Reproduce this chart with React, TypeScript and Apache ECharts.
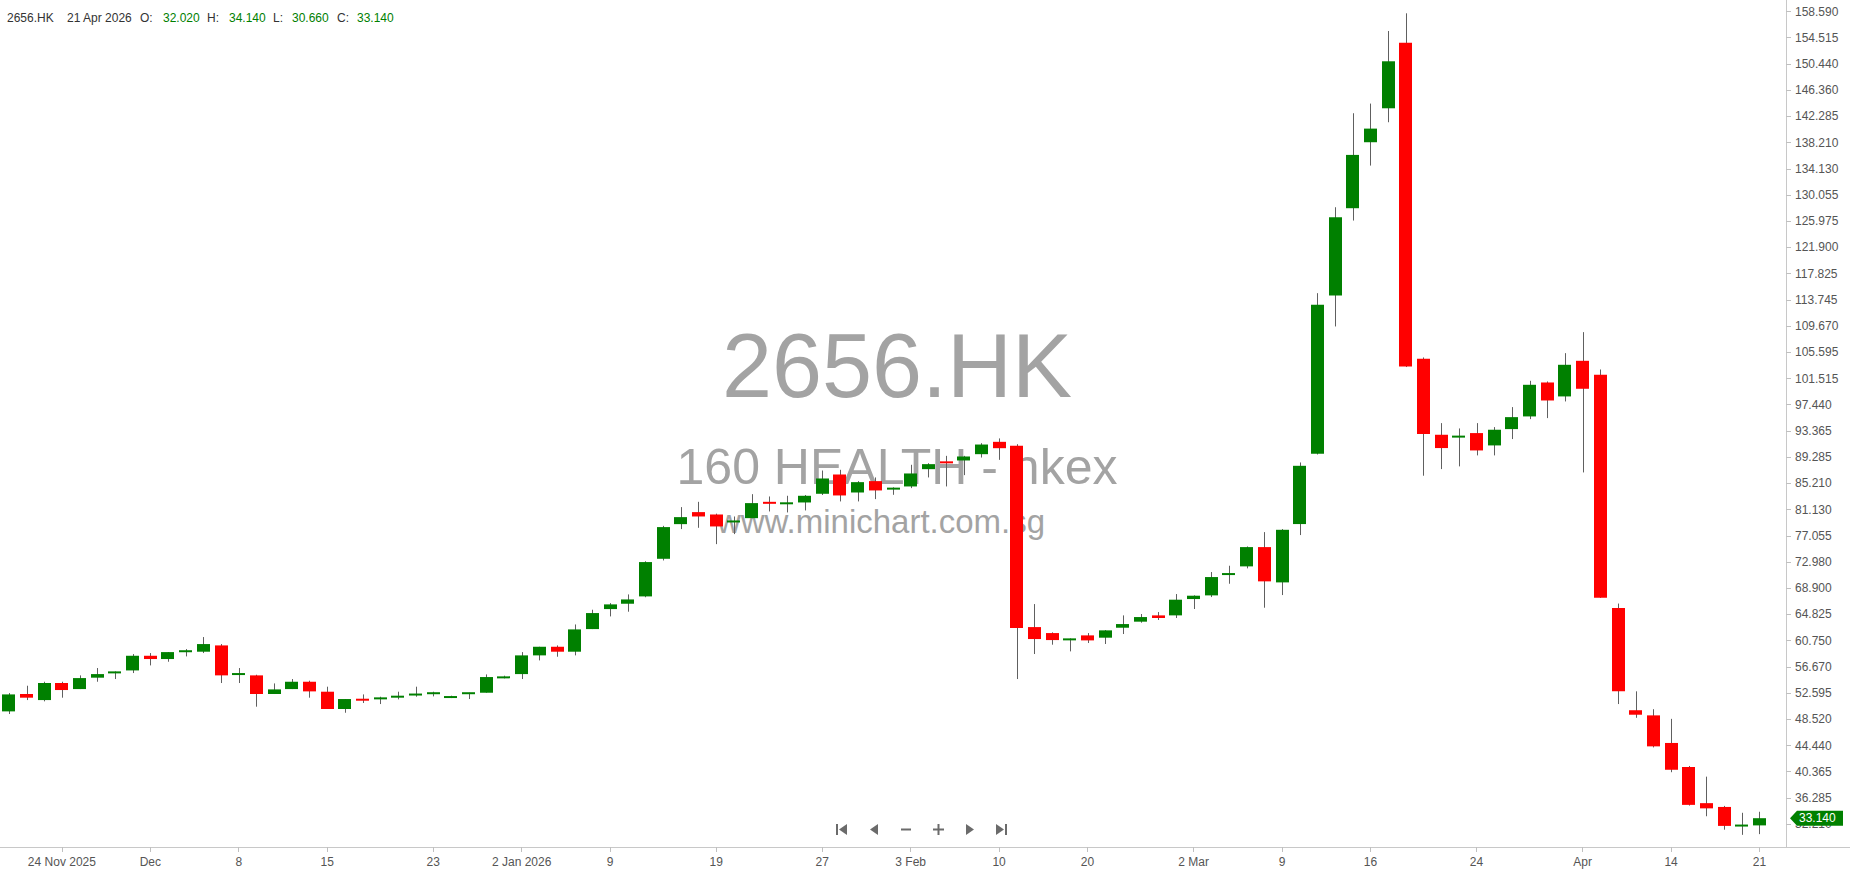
import { useEffect, useRef } from 'react';
import * as echarts from 'echarts';

// ---- data ----
const dates: string[] = [
  '2025-11-19', '2025-11-20', '2025-11-21', '2025-11-24', '2025-11-25', '2025-11-26', '2025-11-27', '2025-11-28',
  '2025-12-01', '2025-12-02', '2025-12-03', '2025-12-04', '2025-12-05',
  '2025-12-08', '2025-12-09', '2025-12-10', '2025-12-11', '2025-12-12',
  '2025-12-15', '2025-12-16', '2025-12-17', '2025-12-18', '2025-12-19',
  '2025-12-22', '2025-12-23', '2025-12-24', '2025-12-29', '2025-12-30', '2025-12-31',
  '2026-01-02', '2026-01-05', '2026-01-06', '2026-01-07', '2026-01-08', '2026-01-09',
  '2026-01-12', '2026-01-13', '2026-01-14', '2026-01-15', '2026-01-16',
  '2026-01-19', '2026-01-20', '2026-01-21', '2026-01-22', '2026-01-23',
  '2026-01-26', '2026-01-27', '2026-01-28', '2026-01-29', '2026-01-30',
  '2026-02-02', '2026-02-03', '2026-02-04', '2026-02-05', '2026-02-06',
  '2026-02-09', '2026-02-10', '2026-02-11', '2026-02-12', '2026-02-13',
  '2026-02-16', '2026-02-20',
  '2026-02-23', '2026-02-24', '2026-02-25', '2026-02-26', '2026-02-27',
  '2026-03-02', '2026-03-03', '2026-03-04', '2026-03-05', '2026-03-06',
  '2026-03-09', '2026-03-10', '2026-03-11', '2026-03-12', '2026-03-13',
  '2026-03-16', '2026-03-17', '2026-03-18', '2026-03-19', '2026-03-20',
  '2026-03-23', '2026-03-24', '2026-03-25', '2026-03-26', '2026-03-27',
  '2026-03-30', '2026-03-31',
  '2026-04-01', '2026-04-02', '2026-04-08', '2026-04-09', '2026-04-10',
  '2026-04-14', '2026-04-15', '2026-04-16', '2026-04-17', '2026-04-20', '2026-04-21',
];

const opens: number[] = [
  49.75, 52.45, 51.51, 54.16, 53.22, 54.99, 55.76, 56.12, 58.40, 57.89,
  59.03, 59.03, 60.01, 55.40, 55.35, 52.45, 53.22, 54.36, 52.81, 50.12,
  51.67, 51.67, 51.88, 52.29, 52.50, 51.93, 52.50, 52.65, 54.99, 55.55,
  58.46, 59.80, 59.03, 62.55, 65.66, 66.49, 67.63, 73.48, 78.87, 80.74,
  80.37, 79.13, 79.80, 82.34, 82.03, 82.24, 83.59, 86.59, 83.79, 85.56,
  84.31, 84.73, 87.42, 88.61, 88.77, 89.75, 91.67, 91.05, 62.86, 61.93,
  60.85, 61.57, 61.21, 62.76, 63.70, 64.68, 64.68, 67.22, 67.79, 70.95,
  72.30, 75.30, 69.81, 78.88, 89.81, 114.42, 128.00, 138.26, 143.54, 153.75,
  104.58, 92.77, 92.35, 93.03, 91.11, 93.65, 95.62, 100.90, 98.73, 104.27,
  102.12, 65.83, 49.93, 49.13, 44.84, 41.10, 35.48, 34.89, 31.89, 32.02,
];
const highs: number[] = [
  52.60, 53.74, 54.36, 54.36, 55.35, 56.49, 55.97, 58.66, 58.82, 58.97,
  59.44, 61.31, 60.22, 56.49, 55.45, 54.10, 54.78, 54.52, 53.59, 51.67,
  52.39, 52.03, 52.81, 53.59, 52.81, 52.19, 52.65, 55.50, 55.30, 58.97,
  59.80, 60.01, 63.27, 65.56, 66.59, 67.94, 73.10, 78.60, 81.52, 82.34,
  80.50, 80.06, 83.53, 83.17, 83.28, 83.40, 87.21, 87.32, 85.56, 86.13,
  84.60, 88.10, 88.35, 89.49, 89.49, 91.46, 92.20, 91.30, 66.44, 62.04,
  61.10, 61.93, 62.40, 64.68, 64.89, 65.20, 68.00, 67.80, 71.42, 72.40,
  75.40, 77.63, 78.10, 88.46, 114.79, 128.15, 142.77, 144.27, 155.56, 158.31,
  104.79, 94.58, 93.75, 94.58, 93.96, 97.07, 101.16, 101.06, 105.46, 108.73,
  102.92, 66.52, 52.87, 50.09, 48.59, 41.26, 39.60, 35.05, 33.98, 34.14,
];
const lows: number[] = [
  49.34, 51.51, 51.31, 51.88, 53.22, 54.36, 54.78, 55.71, 56.90, 57.47,
  58.30, 58.82, 54.16, 54.16, 50.48, 52.45, 53.22, 51.88, 50.12, 49.54,
  51.05, 50.89, 51.62, 52.03, 52.08, 51.82, 51.67, 52.65, 54.88, 54.78,
  57.68, 58.25, 58.46, 62.55, 64.52, 65.25, 67.50, 73.22, 78.10, 78.30,
  75.76, 77.32, 79.80, 80.84, 80.69, 81.00, 83.40, 82.40, 82.40, 82.76,
  83.43, 84.47, 86.13, 84.73, 86.49, 89.23, 88.87, 54.78, 58.67, 60.12,
  59.08, 60.38, 60.23, 61.78, 63.54, 63.96, 64.27, 65.67, 67.53, 69.60,
  71.99, 65.87, 67.84, 77.17, 89.70, 109.61, 126.08, 134.63, 141.37, 103.30,
  86.40, 87.43, 87.85, 89.56, 89.56, 92.10, 95.20, 95.36, 97.95, 86.91,
  67.40, 50.89, 48.75, 44.15, 40.29, 35.10, 33.44, 31.35, 30.55, 30.66,
];
const closes: number[] = [
  52.39, 51.88, 54.16, 53.07, 54.93, 55.55, 55.87, 58.40, 57.89, 58.97,
  59.18, 60.22, 55.35, 55.71, 52.45, 53.17, 54.36, 52.86, 50.12, 51.67,
  51.46, 51.88, 52.19, 52.45, 52.65, 52.03, 52.65, 55.09, 55.09, 58.46,
  59.80, 59.03, 62.50, 65.04, 66.39, 67.16, 72.97, 78.41, 79.96, 80.06,
  78.51, 79.44, 82.14, 82.03, 82.19, 83.28, 85.97, 83.33, 85.40, 84.11,
  84.47, 86.75, 88.20, 88.35, 89.39, 91.25, 90.68, 62.71, 61.00, 60.84,
  61.05, 60.79, 62.35, 63.33, 64.42, 64.27, 67.12, 67.74, 70.64, 71.26,
  75.30, 69.97, 77.99, 87.94, 112.97, 126.60, 136.29, 140.38, 150.85, 103.39,
  92.87, 90.70, 92.61, 90.33, 93.55, 95.51, 100.54, 98.10, 103.65, 99.92,
  67.43, 52.87, 49.23, 44.31, 40.67, 35.21, 34.67, 31.94, 32.10, 33.14,
];

const yTicks: number[] = [
  158.59, 154.515, 150.44, 146.36, 142.285, 138.21, 134.13, 130.055, 125.975, 121.9,
  117.825, 113.745, 109.67, 105.595, 101.515, 97.44, 93.365, 89.285, 85.21, 81.13,
  77.055, 72.98, 68.9, 64.825, 60.75, 56.67, 52.595, 48.52, 44.44, 40.365,
  36.285, 32.21,
];

const xTickLabels: [string, string][] = [
  ['2025-11-24', '24 Nov 2025'], ['2025-12-01', 'Dec'], ['2025-12-08', '8'], ['2025-12-15', '15'],
  ['2025-12-23', '23'], ['2026-01-02', '2 Jan 2026'], ['2026-01-09', '9'], ['2026-01-19', '19'],
  ['2026-01-27', '27'], ['2026-02-03', '3 Feb'], ['2026-02-10', '10'], ['2026-02-20', '20'],
  ['2026-03-02', '2 Mar'], ['2026-03-09', '9'], ['2026-03-16', '16'], ['2026-03-24', '24'],
  ['2026-04-01', 'Apr'], ['2026-04-14', '14'], ['2026-04-21', '21'],
];

const symbol = '2656.HK';
const company = '160 HEALTH - hkex';
const site = 'www.minichart.com.sg';
const lastDateLabel = '21 Apr 2026';

const Y_MIN = 28.66;
const Y_MAX = 160.38;

const UP = '#008000';
const DOWN = '#ff0000';
const WICK = '#606060';
const FONT = '"Liberation Sans", Arial, sans-serif';

export default function App() {
  const ref = useRef<HTMLDivElement>(null);

  useEffect(() => {
    if (!ref.current) return;
    const chart = echarts.init(ref.current, undefined, { renderer: 'svg' });
    const labelMap: Record<string, string> = {};
    xTickLabels.forEach(([d, l]) => { labelMap[d] = l; });
    const cats = [...dates, ''];
    const show = (_i: number, v: string) => labelMap[v] !== undefined;

    const last = dates.length - 1;
    const fmt = (v: number) => v.toFixed(3);

    const navColor = '#6b6b6b';
    const baseGraphic: any[] = [
      { id: 'wm1', type: 'text', z: 0, x: 897, y: 366, style: { text: symbol, font: `90px ${FONT}`, fill: '#a3a3a3', align: 'center', verticalAlign: 'middle' } },
      { id: 'wm2', type: 'text', z: 0, x: 897, y: 467, style: { text: company, font: `50px ${FONT}`, fill: '#a3a3a3', align: 'center', verticalAlign: 'middle' } },
      { id: 'wm3', type: 'text', z: 0, x: 881, y: 521, style: { text: site, font: `33px ${FONT}`, fill: '#a3a3a3', align: 'center', verticalAlign: 'middle' } },
      { id: 'xline', type: 'line', z: 50, shape: { x1: 1786, y1: 847.5, x2: 1850, y2: 847.5 }, style: { stroke: '#c8c8c8', lineWidth: 1 } },
      // header
      { id: 'h1', type: 'text', z: 100, x: 7, y: 18, style: { text: symbol, font: `12px ${FONT}`, fill: '#333', verticalAlign: 'middle' } },
      { id: 'h2', type: 'text', z: 100, x: 67, y: 18, style: { text: lastDateLabel, font: `12px ${FONT}`, fill: '#333', verticalAlign: 'middle' } },
      { id: 'h3', type: 'text', z: 100, x: 140, y: 18, style: { text: 'O:', font: `12px ${FONT}`, fill: '#333', verticalAlign: 'middle' } },
      { id: 'h4', type: 'text', z: 100, x: 163, y: 18, style: { text: fmt(opens[last]), font: `12px ${FONT}`, fill: UP, verticalAlign: 'middle' } },
      { id: 'h5', type: 'text', z: 100, x: 207, y: 18, style: { text: 'H:', font: `12px ${FONT}`, fill: '#333', verticalAlign: 'middle' } },
      { id: 'h6', type: 'text', z: 100, x: 229, y: 18, style: { text: fmt(highs[last]), font: `12px ${FONT}`, fill: UP, verticalAlign: 'middle' } },
      { id: 'h7', type: 'text', z: 100, x: 273, y: 18, style: { text: 'L:', font: `12px ${FONT}`, fill: '#333', verticalAlign: 'middle' } },
      { id: 'h8', type: 'text', z: 100, x: 292, y: 18, style: { text: fmt(lows[last]), font: `12px ${FONT}`, fill: UP, verticalAlign: 'middle' } },
      { id: 'h9', type: 'text', z: 100, x: 337, y: 18, style: { text: 'C:', font: `12px ${FONT}`, fill: '#333', verticalAlign: 'middle' } },
      { id: 'h10', type: 'text', z: 100, x: 357, y: 18, style: { text: fmt(closes[last]), font: `12px ${FONT}`, fill: UP, verticalAlign: 'middle' } },
      // navigation icons
      { id: 'n1a', type: 'rect', z: 100, shape: { x: 836, y: 824, width: 2, height: 11 }, style: { fill: navColor } },
      { id: 'n1b', type: 'polygon', z: 100, shape: { points: [[847, 824], [847, 835], [839, 829.5]] }, style: { fill: navColor } },
      { id: 'n2', type: 'polygon', z: 100, shape: { points: [[878, 824], [878, 835], [870, 829.5]] }, style: { fill: navColor } },
      { id: 'n3', type: 'rect', z: 100, shape: { x: 901, y: 828.5, width: 10, height: 2 }, style: { fill: navColor } },
      { id: 'n4a', type: 'rect', z: 100, shape: { x: 933, y: 828.5, width: 11, height: 2 }, style: { fill: navColor } },
      { id: 'n4b', type: 'rect', z: 100, shape: { x: 937.5, y: 824, width: 2, height: 11 }, style: { fill: navColor } },
      { id: 'n5', type: 'polygon', z: 100, shape: { points: [[966, 824], [966, 835], [974, 829.5]] }, style: { fill: navColor } },
      { id: 'n6a', type: 'polygon', z: 100, shape: { points: [[996, 824], [996, 835], [1004, 829.5]] }, style: { fill: navColor } },
      { id: 'n6b', type: 'rect', z: 100, shape: { x: 1005, y: 824, width: 2, height: 11 }, style: { fill: navColor } },
    ];

    chart.setOption({
      animation: false,
      backgroundColor: '#ffffff',
      textStyle: { fontFamily: FONT },
      grid: { left: 0, right: 64, top: 0, bottom: 27 },
      xAxis: {
        type: 'category',
        data: cats,
        boundaryGap: true,
        axisLine: { show: true, lineStyle: { color: '#c8c8c8', width: 1 } },
        axisTick: { show: true, alignWithLabel: true, interval: show, length: 5, lineStyle: { color: '#c0c0c0' } },
        axisLabel: { interval: show, formatter: (v: string) => labelMap[v] ?? '', color: '#555', fontSize: 12, margin: 9, fontFamily: FONT },
        splitLine: { show: false },
      },
      yAxis: {
        type: 'value',
        position: 'right',
        min: Y_MIN,
        max: Y_MAX,
        axisLine: { show: true, lineStyle: { color: '#c8c8c8', width: 1 } },
        axisTick: { show: true, length: 5, customValues: yTicks, lineStyle: { color: '#c0c0c0' } },
        axisLabel: { customValues: yTicks, formatter: (v: number) => v.toFixed(3), color: '#555', fontSize: 12, margin: 9, fontFamily: FONT },
        splitLine: { show: false },
      },
      graphic: baseGraphic,
      series: [
        {
          type: 'custom',
          data: dates.map((d, i) => [i, opens[i], closes[i], lows[i], highs[i]]),
          encode: { x: 0, y: [1, 2, 3, 4] },
          renderItem: (params: any, api: any) => {
            const idx = api.value(0);
            const o = api.value(1);
            const c = api.value(2);
            const l = api.value(3);
            const h = api.value(4);
            const pO = api.coord([idx, o]);
            const pC = api.coord([idx, c]);
            const pL = api.coord([idx, l]);
            const pH = api.coord([idx, h]);
            const band = api.size([1, 0])[0];
            const bw = Math.round(band * 0.76);
            const cx = pO[0];
            const wx = Math.round(cx) + 0.5;
            let top = Math.min(pO[1], pC[1]);
            let bot = Math.max(pO[1], pC[1]);
            if (bot - top < 2) { const m = (top + bot) / 2; top = m - 1; bot = m + 1; }
            const up = c >= o;
            return {
              type: 'group',
              children: [
                { type: 'line', shape: { x1: wx, y1: pH[1], x2: wx, y2: pL[1] }, style: { stroke: WICK, lineWidth: 1 } },
                { type: 'rect', shape: { x: Math.round(cx - bw / 2), y: top, width: bw, height: bot - top }, style: { fill: up ? UP : DOWN } },
              ],
            };
          },
        },
      ],
    });

    const ty = chart.convertToPixel({ yAxisIndex: 0 }, closes[last]) as number;
    const tagColor = closes[last] >= opens[last] ? UP : DOWN;
    chart.setOption({
      graphic: [
        ...baseGraphic,
        { id: 'tag', type: 'polygon', z: 120, shape: { points: [[1790, ty], [1797, ty - 7.5], [1843, ty - 7.5], [1843, ty + 7.5], [1797, ty + 7.5]] }, style: { fill: tagColor } },
        { id: 'tagt', type: 'text', z: 121, x: 1799, y: ty, style: { text: fmt(closes[last]), font: `12px ${FONT}`, fill: '#fff', verticalAlign: 'middle' } },
      ],
    });

    return () => chart.dispose();
  }, []);

  return <div ref={ref} style={{ position: 'absolute', left: 0, top: 0, width: 1850, height: 874, background: '#fff' }} />;
}
